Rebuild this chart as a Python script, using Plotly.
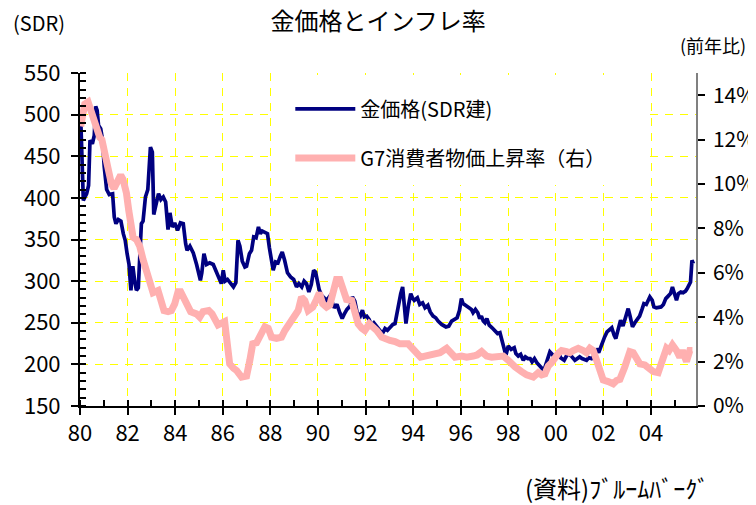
import plotly.graph_objects as go

# ---------------- data ----------------
gold_year = [1980.04,1980.14,1980.28,1980.36,1980.42,1980.52,1980.60,1980.66,1980.72,1980.78,1980.87,1980.94,
             1981.02,1981.12,1981.23,1981.37,1981.44,1981.51,1981.61,1981.72,1981.82,1981.90,1981.98,
             1982.06,1982.14,1982.22,1982.30,1982.37,1982.45,1982.58,1982.65,1982.75,1982.85,1982.96,
             1983.04,1983.10,1983.18,1983.30,1983.40,1983.50,1983.60,1983.70,1983.78,1983.88,1983.98,
             1984.10,1984.22,1984.34,1984.44,1984.50,1984.62,1984.76,1984.90,
             1985.06,1985.12,1985.21,1985.32,1985.45,1985.60,1985.72,1985.85,1985.94,
             1986.02,1986.10,1986.20,1986.32,1986.45,1986.55,1986.64,1986.72,1986.82,1986.93,
             1987.00,1987.12,1987.21,1987.30,1987.40,1987.50,1987.58,1987.66,1987.78,1987.88,1987.96,
             1988.05,1988.12,1988.22,1988.32,1988.42,1988.50,1988.60,1988.72,1988.85,1988.98,
             1989.10,1989.20,1989.32,1989.42,1989.52,1989.62,1989.72,1989.82,1989.90,1989.96,
             1990.05,1990.15,1990.25,1990.37,1990.50,1990.55,1990.68,1990.80,1990.92,
             1991.02,1991.10,1991.22,1991.35,1991.45,1991.55,1991.65,1991.78,1991.87,1991.95,
             1992.05,1992.15,1992.25,1992.35,1992.50,1992.62,1992.71,1992.82,1992.92,
             1993.05,1993.15,1993.24,1993.30,1993.38,1993.48,1993.56,1993.64,1993.70,1993.80,1993.90,1993.97,
             1994.05,1994.18,1994.28,1994.40,1994.50,1994.62,1994.72,1994.84,1994.95,
             1995.05,1995.20,1995.38,1995.50,1995.62,1995.75,1995.85,1995.95,
             1996.03,1996.10,1996.22,1996.35,1996.45,1996.52,1996.62,1996.72,1996.80,1996.87,1996.95,
             1997.02,1997.10,1997.20,1997.32,1997.45,1997.55,1997.65,1997.78,1997.90,
             1998.00,1998.12,1998.25,1998.32,1998.42,1998.52,1998.63,1998.72,1998.82,1998.92,
             1999.00,1999.10,1999.20,1999.30,1999.42,1999.50,1999.58,1999.68,1999.75,1999.85,1999.95,
             2000.05,2000.10,2000.20,2000.35,2000.50,2000.65,2000.80,2000.90,
             2001.00,2001.10,2001.20,2001.29,2001.38,2001.50,2001.60,2001.71,2001.80,2001.90,2001.96,
             2002.05,2002.15,2002.25,2002.35,2002.45,2002.52,2002.60,2002.72,2002.82,2002.92,
             2003.04,2003.12,2003.22,2003.32,2003.42,2003.52,2003.62,2003.70,2003.80,2003.90,2003.95,
             2004.05,2004.12,2004.22,2004.32,2004.42,2004.52,2004.62,2004.72,2004.82,2004.90,2004.98,
             2005.07,2005.15,2005.25,2005.35,2005.45,2005.52,2005.60,2005.66,2005.72,2005.78]
gold_sdr = [487,397,405,415,469,465,475,510,505,487,483,471,
            437,410,404,405,377,369,374,372,357,349,333,
            320,289,318,300,289,292,369,372,401,410,461,
            455,380,390,405,398,401,395,362,382,365,370,
            361,370,369,345,337,342,334,320,
            301,310,333,320,322,320,312,302,297,
            313,300,302,297,293,298,349,342,324,317,
            318,333,337,353,352,365,357,360,358,357,340,
            320,313,323,322,330,335,325,310,305,302,
            293,297,293,300,297,287,296,313,311,300,
            290,283,280,277,282,279,268,272,262,
            255,260,266,270,281,276,262,258,265,257,
            258,254,247,250,244,240,237,243,241,
            245,248,249,258,274,285,293,268,249,270,285,280,
            277,280,272,274,268,271,263,258,256,
            252,248,245,246,252,254,256,265,
            279,273,270,268,266,262,266,262,255,258,252,
            250,255,247,244,240,237,238,225,211,
            222,218,220,213,210,212,205,209,207,207,
            203,207,202,198,195,193,200,210,215,212,208,
            212,216,208,205,213,210,205,207,
            209,207,206,205,208,207,210,219,214,222,229,
            233,239,242,244,235,231,240,253,246,255,
            267,258,245,250,255,258,266,273,272,278,281,
            277,269,268,268,269,272,279,282,285,293,284,
            277,285,287,286,288,291,297,299,325,321]

cpi_year = [1980.03,1980.20,1980.34,1980.48,1980.59,1980.69,1980.83,1980.92,
            1981.06,1981.18,1981.32,1981.43,1981.57,1981.71,1981.81,1981.95,
            1982.05,1982.13,1982.23,1982.37,1982.51,1982.65,1982.79,1982.93,
            1983.07,1983.28,1983.39,1983.53,1983.70,1983.84,1983.98,
            1984.12,1984.23,1984.37,1984.51,1984.65,1984.89,
            1985.03,1985.17,1985.41,1985.55,1985.69,1985.80,
            1986.08,1986.19,1986.29,1986.45,1986.58,1986.79,
            1987.00,1987.14,1987.26,1987.42,1987.63,1987.77,1987.91,
            1988.05,1988.26,1988.47,1988.61,1988.80,1988.99,
            1989.17,1989.31,1989.45,1989.59,1989.78,1989.94,
            1990.06,1990.20,1990.36,1990.50,1990.64,1990.78,1990.92,
            1991.06,1991.20,1991.42,1991.55,1991.69,1991.84,1991.97,
            1992.16,1992.32,1992.47,1992.68,1992.86,
            1993.03,1993.24,1993.45,1993.79,
            1994.00,1994.15,1994.31,1994.50,1994.71,1994.99,
            1995.13,1995.41,1995.62,1995.76,
            1996.04,1996.25,1996.53,1996.69,1996.88,
            1997.09,1997.30,1997.51,1997.79,1997.99,
            1998.14,1998.28,1998.56,1998.77,
            1999.05,1999.26,1999.40,1999.54,1999.68,1999.82,
            2000.10,2000.24,2000.45,2000.59,2000.73,2000.94,
            2001.15,2001.29,2001.43,2001.57,2001.71,2001.85,2001.99,
            2002.20,2002.41,2002.55,2002.69,2002.90,
            2003.04,2003.11,2003.25,2003.39,2003.53,2003.74,2003.95,
            2004.09,2004.30,2004.37,2004.51,2004.65,2004.76,2004.90,
            2005.07,2005.21,2005.32,2005.49,2005.63,2005.74]
cpi_pct = [12.6,13.6,13.7,13.2,12.9,12.4,12.1,12.0,
           11.2,10.6,10.0,9.8,10.2,10.4,10.2,9.6,
           8.8,8.2,7.6,7.5,7.2,6.6,6.0,5.4,
           5.1,5.2,4.8,4.3,4.25,4.3,4.6,
           5.15,5.15,4.8,4.5,4.25,4.15,
           4.0,4.25,4.3,4.15,3.8,3.65,
           3.8,2.67,1.9,1.7,1.6,1.3,
           1.35,2.07,2.8,2.85,3.4,3.57,3.5,
           3.1,3.05,3.1,3.4,3.7,4.0,
           4.3,4.9,4.75,4.3,4.45,4.8,
           5.1,4.6,4.45,4.55,5.15,5.7,5.7,
           5.2,4.8,4.75,4.3,3.7,3.5,3.4,
           3.7,3.55,3.4,3.1,3.0,
           2.95,2.9,2.8,2.8,
           2.6,2.4,2.2,2.25,2.3,2.35,
           2.4,2.6,2.3,2.2,
           2.25,2.2,2.25,2.3,2.45,
           2.25,2.2,2.2,2.25,2.07,
           1.9,1.77,1.55,1.4,
           1.3,1.5,1.4,1.45,1.8,1.95,
           2.37,2.5,2.45,2.4,2.5,2.6,
           2.5,2.4,2.6,2.5,2.07,1.6,1.17,
           1.1,1.0,1.15,1.2,1.77,
           2.15,2.45,2.4,2.2,1.9,1.85,1.7,
           1.55,1.5,1.7,2.2,2.6,2.5,2.75,
           2.5,2.2,2.5,2.0,2.5,2.5]

year_ticks = [1980, 1982, 1984, 1986, 1988, 1990, 1992, 1994, 1996, 1998, 2000, 2002, 2004]
year_labels = ["80", "82", "84", "86", "88", "90", "92", "94", "96", "98", "00", "02", "04"]
left_ticks = [150, 200, 250, 300, 350, 400, 450, 500, 550]
right_ticks = [0, 2, 4, 6, 8, 10, 12, 14]
right_labels = ["0%", "2%", "4%", "6%", "8%", "10%", "12%", "14%"]

gold_name = "金価格(SDR建)"
cpi_name = "G7消費者物価上昇率（右）"

# ---------------- figure ----------------
FONT = "Noto Sans CJK JP"
NAVY = "#000080"
PINK = "#FFB0B0"
GRID = "#FFFF00"
XR = [1980, 2005.89]

fig = go.Figure()
fig.add_trace(go.Scatter(x=gold_year, y=gold_sdr, name=gold_name, mode="lines", showlegend=True,
                         line=dict(color=NAVY, width=3.7), yaxis="y", legend="legend"))
fig.add_trace(go.Scatter(x=cpi_year, y=cpi_pct, name=cpi_name, mode="lines", showlegend=True,
                         line=dict(color=PINK, width=7), yaxis="y2", legend="legend2"))

tickfont = dict(family=FONT, size=22, color="black")
rtickfont = dict(family=FONT, size=21, color="black")
legfont = dict(family=FONT, size=20, color="black")

# the page body adds an 8px margin, so the figure is 8px smaller than the window
fig.update_layout(
    width=748, height=497,
    margin=dict(l=72, r=60, t=65, b=99, autoexpand=False),
    showlegend=True,
    paper_bgcolor="white", plot_bgcolor="white",
    font=dict(family=FONT, color="black"),
    title=dict(text="金価格とインフレ率", x=0.4947, xanchor="center", y=0.9718, yanchor="middle",
               font=dict(family=FONT, size=24, color="black")),
    xaxis=dict(range=XR, tickvals=year_ticks, ticktext=year_labels, automargin=False,
               showgrid=True, gridcolor=GRID, gridwidth=1, griddash="8px,7px",
               showline=True, linecolor="black", linewidth=2,
               ticks="outside", ticklen=7, tickwidth=1.5, tickcolor="black",
               minor=dict(dtick=1, tick0=1981, ticks="inside", ticklen=6, tickcolor="black",
                          tickwidth=1.5, showgrid=False),
               tickfont=tickfont, zeroline=False),
    yaxis=dict(range=[150, 550], tickvals=left_ticks, automargin=False,
               showgrid=True, gridcolor=GRID, gridwidth=1, griddash="8px,7px",
               showline=True, linecolor="black", linewidth=2,
               ticks="outside", ticklen=7, tickwidth=1.5, tickcolor="black",
               ticklabelstandoff=6,
               minor=dict(dtick=10, tick0=150, ticks="inside", ticklen=6, tickcolor="black",
                          tickwidth=1.5, showgrid=False),
               tickfont=tickfont, zeroline=False),
    yaxis2=dict(range=[0, 15], tickvals=right_ticks, ticktext=right_labels, automargin=False,
                overlaying="y", side="right", anchor="x",
                showgrid=False, showline=True, linecolor="#808080", linewidth=1.5,
                ticks="outside", ticklen=7, tickwidth=1.5, tickcolor="black",
                ticklabelstandoff=4,
                tickfont=rtickfont, zeroline=False),
    # companion axes carrying the inner half of the crossing major ticks
    xaxis2=dict(range=XR, overlaying="x", anchor="y", side="bottom", tickvals=year_ticks,
                automargin=False, showticklabels=False, showgrid=False, showline=False, zeroline=False,
                ticks="inside", ticklen=7, tickwidth=1.5, tickcolor="black"),
    yaxis3=dict(range=[150, 550], overlaying="y", anchor="x", side="left", tickvals=left_ticks,
                automargin=False, showticklabels=False, showgrid=False, showline=False, zeroline=False,
                ticks="inside", ticklen=7, tickwidth=1.5, tickcolor="black"),
    yaxis4=dict(range=[0, 15], overlaying="y", anchor="x", side="right", tickvals=right_ticks,
                automargin=False, showticklabels=False, showgrid=False, showline=False, zeroline=False,
                ticks="inside", ticklen=7, tickwidth=1.5, tickcolor="black"),
    legend=dict(x=0.3414, y=0.892, xanchor="left", yanchor="middle", bgcolor="rgba(0,0,0,0)",
                font=legfont, itemwidth=60, visible=True),
    legend2=dict(x=0.3414, y=0.745, xanchor="left", yanchor="middle", bgcolor="rgba(0,0,0,0)",
                 font=legfont, itemwidth=60, visible=True),
    shapes=[dict(type="rect", xref="paper", yref="paper", x0=0.312, x1=0.924, y0=0.664, y1=0.994,
                 fillcolor="white", line=dict(width=0), layer="above")],
    annotations=[
        dict(text="(SDR)", xref="paper", yref="paper", x=-0.112, y=1.153, xanchor="left",
             yanchor="middle", showarrow=False, font=dict(family=FONT, size=20, color="black")),
        dict(text="(前年比)", xref="paper", yref="paper", x=1.0844, y=1.084, xanchor="right",
             yanchor="middle", showarrow=False, font=dict(family=FONT, size=18, color="black")),
        dict(text="(資料)ﾌﾞﾙｰﾑﾊﾞｰｸﾞ", xref="paper", yref="paper", x=1.025, y=-0.245,
             xanchor="right", yanchor="middle", showarrow=False,
             font=dict(family=FONT, size=24, color="black")),
    ],
)

fig.write_html("out.html")
